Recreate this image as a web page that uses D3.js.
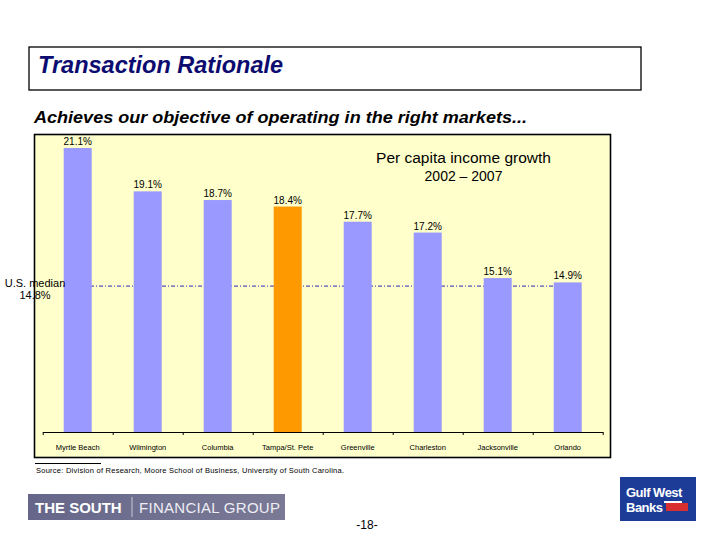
<!DOCTYPE html>
<html><head><meta charset="utf-8">
<script src="https://cdn.jsdelivr.net/npm/d3@7"></script>
<style>html,body{margin:0;padding:0;background:#fff;}svg{display:block;font-family:Arial,"Liberation Sans",sans-serif;}</style>
</head><body>
<svg id="c" width="720" height="540"></svg>
<script>
const categories = ["Myrtle Beach","Wilmington","Columbia","Tampa/St. Pete","Greenville","Charleston","Jacksonville","Orlando"];
const growthValues = [21.1, 19.1, 18.7, 18.4, 17.7, 17.2, 15.1, 14.9];
const highlightCategory = "Tampa/St. Pete";
const usMedian = 14.8;
const yDomain = [8, 22];
const title = "Transaction Rationale";
const subtitle = "Achieves our objective of operating in the right markets...";
const chartTitle = ["Per capita income growth", "2002 \u2013 2007"];
const medianLabel = ["U.S. median", "14.8%"];
const sourceText = "Source: Division of Research, Moore School of Business, University of South Carolina.";
const pageNumber = "-18-";

const svg = d3.select("#c");

// Title box
svg.append("rect").attr("x",29).attr("y",47).attr("width",612).attr("height",43)
  .attr("fill","#fff").attr("stroke","#000").attr("stroke-width",1.3);
svg.append("text").attr("x",38).attr("y",73).attr("font-size",23.5).attr("font-weight","bold")
  .attr("font-style","italic").attr("fill","#0c0c70").text(title);
svg.append("text").attr("x",34).attr("y",123).attr("font-size",17).attr("font-weight","bold")
  .attr("font-style","italic").attr("fill","#000").attr("textLength",493).attr("lengthAdjust","spacingAndGlyphs").text(subtitle);

// Chart frame
svg.append("rect").attr("x",34.5).attr("y",134.5).attr("width",576).attr("height",323)
  .attr("fill","#ffffcc").attr("stroke","#000").attr("stroke-width",1.6);

const x = d3.scaleBand().domain(categories).range([42.7, 602.7]).paddingInner(0.6).paddingOuter(0.3);
const y = d3.scaleLinear().domain(yDomain).range([432, 128.5]);

// median line (behind bars)
svg.append("line").attr("x1",63).attr("x2",572).attr("y1",y(usMedian)+1.5).attr("y2",y(usMedian)+1.5)
  .attr("stroke","#2a2ab8").attr("stroke-width",1).attr("stroke-dasharray","4,2,1,2");

const data = categories.map((c,i)=>({c, v:growthValues[i]}));
svg.append("g").selectAll("rect").data(data).join("rect")
  .attr("x",d=>x(d.c)).attr("width",x.bandwidth())
  .attr("y",d=>y(d.v)).attr("height",d=>y(yDomain[0])-y(d.v))
  .attr("fill",d=>d.c===highlightCategory?"#ff9900":"#9999ff");

svg.append("g").selectAll("text").data(data).join("text")
  .attr("x",d=>x(d.c)+x.bandwidth()/2).attr("y",d=>y(d.v)-3)
  .attr("text-anchor","middle").attr("font-size",10).attr("fill","#000")
  .text(d=>d.v.toFixed(1)+"%");

// axis
const xb = d3.scaleLinear().domain([0, categories.length]).range([42.7, 602.7]);
const gAx = svg.append("g").attr("transform","translate(0,432)")
  .call(d3.axisBottom(xb).tickValues(d3.range(categories.length+1)).tickFormat("").tickSize(3).tickSizeOuter(0));
gAx.selectAll("path,line").attr("stroke","#000").attr("stroke-width",1);
const gLab = svg.append("g").attr("transform","translate(0,432)")
  .call(d3.axisBottom(x).tickSize(0).tickPadding(13));
gLab.select(".domain").remove();
gLab.selectAll("text").attr("font-size",7.5).attr("fill","#000").attr("font-family","Arial, 'Liberation Sans', sans-serif");

// chart title
svg.append("text").attr("x",463.5).attr("y",162.5).attr("text-anchor","middle").attr("font-size",15.5).attr("fill","#000").text(chartTitle[0]);
svg.append("text").attr("x",463.5).attr("y",181).attr("text-anchor","middle").attr("font-size",14).attr("fill","#000").text(chartTitle[1]);

// median label
svg.append("text").attr("x",35).attr("y",287).attr("text-anchor","middle").attr("font-size",11).attr("fill","#000").text(medianLabel[0]);
svg.append("text").attr("x",35).attr("y",299).attr("text-anchor","middle").attr("font-size",11).attr("fill","#000").text(medianLabel[1]);

// source
svg.append("line").attr("x1",35).attr("x2",101).attr("y1",463.5).attr("y2",463.5).attr("stroke","#000").attr("stroke-width",1);
svg.append("text").attr("x",36).attr("y",473).attr("font-size",7.5).attr("fill","#000").attr("textLength",308).text(sourceText);

// logos
const g1 = svg.append("defs").append("linearGradient").attr("id","lg1").attr("x1",0).attr("x2",1);
g1.append("stop").attr("offset",0).attr("stop-color","#66668a");
g1.append("stop").attr("offset",1).attr("stop-color","#7a7a96");
svg.append("rect").attr("x",28).attr("y",494).attr("width",257).attr("height",26).attr("fill","url(#lg1)");
svg.append("text").attr("x",35).attr("y",513).attr("font-size",15).attr("font-weight","bold").attr("fill","#fff").text("THE SOUTH");
svg.append("line").attr("x1",132).attr("x2",132).attr("y1",497).attr("y2",517).attr("stroke","#c8c8d8").attr("stroke-width",1);
svg.append("text").attr("x",139).attr("y",513).attr("font-size",15).attr("fill","#eeeef4").attr("textLength",141).text("FINANCIAL GROUP");

svg.append("rect").attr("x",620).attr("y",477).attr("width",76).attr("height",44).attr("fill","#1c3c98");
svg.append("text").attr("x",626).attr("y",497).attr("font-size",13).attr("font-weight","bold").attr("fill","#fff").attr("letter-spacing",-0.5).text("Gulf West");
svg.append("text").attr("x",626).attr("y",512).attr("font-size",13).attr("font-weight","bold").attr("fill","#fff").attr("letter-spacing",-0.5).text("Banks");
svg.append("rect").attr("x",666).attr("y",503).attr("width",22).attr("height",8).attr("fill","#d83030");
svg.append("rect").attr("x",664).attr("y",501).attr("width",18).attr("height",2).attr("fill","#fff");

svg.append("text").attr("x",367).attr("y",529).attr("text-anchor","middle").attr("font-size",12).attr("fill","#000").text(pageNumber);
</script>
</body></html>
